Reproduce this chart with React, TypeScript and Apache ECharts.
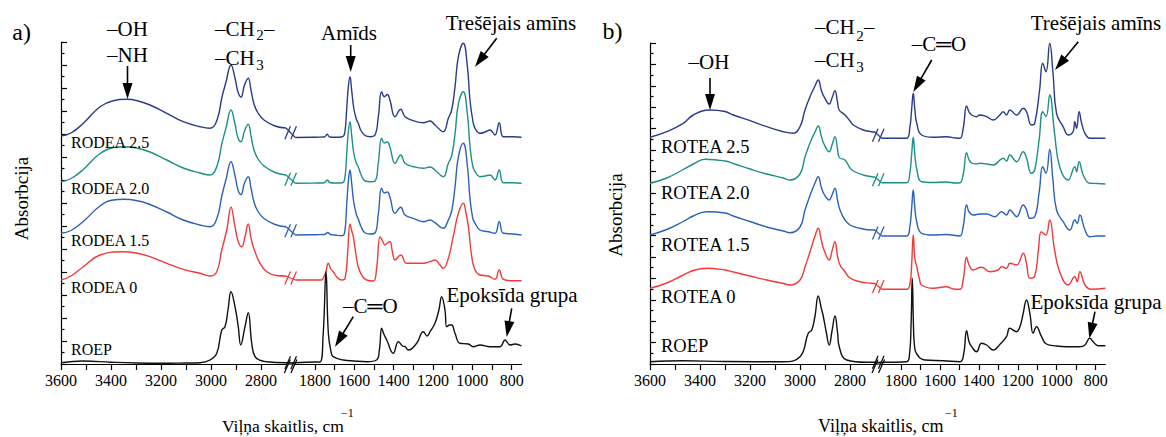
import React, { useEffect, useRef } from 'react';
import * as echarts from 'echarts';

// ---------- axis ticks / labels ----------
const leftTicks = [2800, 2900, 3000, 3100, 3200, 3300, 3400, 3500, 3600];
const leftTickLabels = [2800, 3000, 3200, 3400, 3600];
const rightTicks = [800, 900, 1000, 1100, 1200, 1300, 1400, 1500, 1600, 1700, 1800];
const rightTickLabels = [800, 1000, 1200, 1400, 1600, 1800];

// ---------- series names and colours ----------
const namesA = ['RODEA 2.5', 'RODEA 2.0', 'RODEA 1.5', 'RODEA 0', 'ROEP'];
const namesB = ['ROTEA 2.5', 'ROTEA 2.0', 'ROTEA 1.5', 'ROTEA 0', 'ROEP'];
const colors = ['#2a3b87', '#1d8f88', '#2b62b8', '#f03a3a', '#111111'];

// ---------- panel a : spectra (wavenumber, offset absorbance) ----------
const rodea25L = [[3600, 228], [3560, 231], [3511, 240.7], [3444, 257.3], [3391, 263.3], [3337, 264.7], [3290, 263], [3244, 259], [3177, 250.7], [3111, 242.3], [3044, 237.3], [3004, 235.7], [2976, 244], [2956, 267], [2940, 282], [2920, 299], [2904, 286], [2892, 272], [2880, 267], [2866, 279], [2851, 285.7], [2840, 274], [2828, 260], [2812, 251], [2788, 244], [2744, 238], [2700, 236]];
const rodea20L = [[3600, 182.3], [3560, 185.5], [3511, 194.5], [3444, 210.5], [3391, 216.5], [3350, 217.3], [3290, 215.5], [3244, 212], [3177, 204], [3111, 196], [3044, 191], [3004, 189], [2976, 198], [2956, 221], [2940, 236], [2920, 254], [2904, 240], [2892, 226], [2880, 222.3], [2866, 233], [2851, 239.7], [2840, 228], [2828, 214], [2812, 205], [2788, 198], [2744, 191.5], [2700, 189]];
const rodea15L = [[3600, 130.7], [3560, 133.5], [3511, 142.5], [3444, 158], [3391, 164], [3350, 164.7], [3290, 163], [3244, 159.5], [3177, 152], [3111, 144], [3044, 139], [3004, 137.3], [2976, 146], [2956, 169], [2940, 184.5], [2920, 202.3], [2904, 188.5], [2892, 174], [2880, 169.5], [2866, 181], [2851, 187.3], [2840, 176], [2828, 162], [2812, 152.5], [2788, 145.5], [2744, 139.5], [2700, 137.3]];
const rodea0L = [[3600, 84], [3560, 88], [3511, 97.3], [3444, 109], [3351, 112.3], [3290, 110.5], [3244, 107.3], [3177, 100.7], [3111, 94.7], [3044, 90.7], [3004, 88], [2977, 92.3], [2957, 114], [2937, 134], [2920, 156.7], [2904, 137.3], [2891, 122.3], [2877, 117.3], [2864, 127.3], [2851, 140], [2841, 127.3], [2831, 117.3], [2804, 100.7], [2777, 92.3], [2740, 88.5], [2700, 88]];
const roepAL = [[3600, 1.3], [3511, 3], [3400, 1.8], [3300, 1], [3200, 0.7], [3100, 1], [3044, 1.3], [3004, 4], [2977, 10.7], [2957, 34], [2944, 37.3], [2932, 54], [2920, 72.3], [2904, 57.3], [2891, 37.3], [2881, 19], [2864, 37.3], [2851, 51.3], [2837, 20.7], [2824, 7.3], [2800, 3.5], [2777, 2.3], [2700, 1.3]];

const rodea25R = [[1900, 226.5], [1790, 226.8], [1752, 227], [1738, 229.7], [1725, 227], [1700, 226.7], [1660, 227.3], [1648, 232], [1639, 254], [1631, 276], [1622, 287.3], [1613, 273], [1603, 256], [1590, 245], [1580, 240.7], [1565, 233], [1545, 228.5], [1520, 227.3], [1495, 229], [1478, 247], [1461, 272.3], [1447, 267.3], [1432, 269.5], [1419, 264], [1393, 247.3], [1364, 254.7], [1342, 247.3], [1300, 243.3], [1249, 241.3], [1215, 243], [1190, 239], [1148, 232.3], [1122, 245.7], [1105, 254], [1088, 277.3], [1071, 307.3], [1046, 320.7], [1025, 297.3], [1012, 264], [998, 244], [986, 235.7], [961, 230.7], [935, 232], [910, 234], [885, 229], [863, 241.3], [842, 227.3], [792, 227.3], [750, 226.7]];
const rodea20R = [[1900, 180.7], [1790, 181], [1752, 181.3], [1737, 184], [1725, 181.5], [1700, 181], [1660, 181.3], [1648, 186], [1639, 209], [1631, 231], [1622, 242.3], [1613, 228], [1603, 211], [1590, 201], [1580, 197.3], [1565, 189], [1545, 183], [1520, 182.3], [1495, 183], [1478, 201], [1461, 225.7], [1447, 221], [1432, 222], [1419, 217], [1393, 200.7], [1364, 209], [1342, 200.7], [1300, 197.3], [1249, 195.7], [1215, 197], [1190, 194], [1148, 187.3], [1122, 200.7], [1105, 208], [1088, 230], [1071, 260], [1046, 272.3], [1025, 250], [1012, 218], [998, 198], [986, 192.3], [961, 187.3], [935, 188], [910, 189], [885, 184], [863, 194], [842, 181.3], [792, 181.3], [750, 180.7]];
const rodea15R = [[1900, 129], [1790, 129.3], [1752, 129.5], [1735, 131.5], [1722, 129.5], [1700, 129], [1660, 128.3], [1648, 133], [1639, 158], [1631, 181], [1622, 194], [1613, 180], [1603, 162], [1590, 150], [1580, 145], [1565, 137], [1545, 131], [1520, 130], [1495, 131], [1478, 150], [1461, 175.7], [1447, 171], [1432, 172], [1419, 167], [1393, 150.7], [1364, 156.7], [1342, 149], [1300, 145.7], [1249, 142.3], [1215, 144], [1190, 141.3], [1148, 135.7], [1122, 144], [1105, 153], [1088, 177], [1071, 207], [1046, 220.7], [1025, 198], [1012, 166], [998, 146], [986, 140.7], [961, 134], [918, 132.3], [885, 130.7], [863, 142.3], [842, 130.7], [792, 130], [750, 129]];
const rodea0R = [[1900, 84], [1790, 84], [1766, 84], [1758, 85.7], [1745, 92], [1732, 100.7], [1720, 95], [1707, 92.3], [1690, 87.3], [1664, 84], [1647, 85.7], [1634, 110.7], [1622, 140], [1613, 133], [1605, 127.3], [1592, 110], [1580, 97.3], [1560, 88], [1537, 84], [1503, 83], [1487, 95], [1469, 127.3], [1456, 123], [1444, 119], [1432, 121], [1419, 122.3], [1406, 112], [1393, 104], [1364, 109], [1334, 100.7], [1300, 100.7], [1249, 100.7], [1215, 102.3], [1190, 104], [1164, 99], [1148, 95.7], [1122, 105.7], [1097, 127.3], [1071, 150.7], [1046, 160.7], [1032, 150.7], [1020, 137.3], [1003, 107.3], [986, 94], [961, 89], [918, 88], [885, 84.7], [863, 94], [842, 84.7], [792, 83.3], [750, 83.3]];
const roepAR = [[1900, 1.3], [1800, 2], [1775, 2], [1758, 30.7], [1744, 92.3], [1732, 30.7], [1718, 12], [1707, 7.3], [1656, 4], [1600, 3], [1537, 2.3], [1487, 4], [1472, 15], [1461, 35.7], [1450, 30], [1435, 24], [1402, 10.7], [1376, 22.3], [1355, 18], [1342, 17.3], [1325, 14], [1283, 20.7], [1249, 32.3], [1230, 28], [1215, 32.3], [1190, 40.7], [1170, 54], [1156, 67.3], [1139, 54], [1130, 37.3], [1114, 39], [1105, 39], [1088, 30.7], [1063, 20.7], [1020, 20], [995, 17.3], [961, 19], [910, 17.3], [859, 17.3], [834, 24], [808, 19], [783, 20], [750, 18]];

// ---------- panel b : spectra ----------
const rotea25L = [[3600, 226.7], [3533, 232.3], [3467, 240.7], [3427, 249], [3360, 254], [3300, 252.5], [3267, 249], [3200, 243.3], [3133, 237.3], [3067, 232.3], [3027, 230.7], [3000, 237.3], [2980, 254], [2960, 267.3], [2940, 278], [2927, 284], [2915, 274], [2904, 267.3], [2883, 260], [2872, 266], [2860, 273.3], [2850, 262], [2843, 254], [2820, 249], [2800, 243], [2787, 239], [2747, 234], [2713, 232.3], [2700, 232]];
const rotea20L = [[3600, 180.7], [3533, 186], [3467, 194.5], [3427, 200], [3380, 204.7], [3300, 203], [3267, 200.5], [3200, 195], [3133, 190], [3067, 186], [3040, 184], [3000, 190], [2980, 207], [2960, 221], [2940, 232], [2927, 238], [2915, 228], [2904, 220], [2883, 212.3], [2872, 219], [2860, 227.3], [2850, 215], [2843, 206.5], [2820, 204], [2800, 196], [2787, 193], [2747, 189], [2713, 187.3], [2700, 187]];
const rotea15L = [[3600, 129], [3533, 134.5], [3467, 142.5], [3427, 148], [3373, 152.3], [3300, 151], [3267, 148], [3200, 142.5], [3133, 137], [3067, 133], [3040, 131.3], [3000, 137], [2980, 154], [2960, 168.5], [2940, 181], [2927, 187.3], [2915, 177], [2904, 170], [2883, 164], [2872, 169], [2860, 175.7], [2850, 164], [2840, 154], [2820, 144], [2800, 139], [2760, 135.7], [2713, 134], [2700, 134]];
const rotea0L = [[3600, 75.7], [3533, 81], [3467, 89], [3420, 94], [3373, 95.7], [3300, 94], [3267, 92], [3200, 88], [3133, 84], [3067, 80.5], [3040, 79], [3000, 84], [2980, 97], [2960, 112.3], [2940, 128], [2927, 135.7], [2915, 124], [2904, 114], [2883, 104], [2872, 113], [2860, 122.3], [2850, 108], [2840, 99], [2820, 92.3], [2800, 86], [2760, 82.3], [2713, 80.7], [2700, 80.5]];
const roepBL = [[3600, 2.3], [3468, 3.3], [3300, 2.5], [3068, 2.3], [3000, 7.3], [2967, 30.7], [2953, 34], [2940, 48], [2927, 68], [2915, 56], [2908, 49], [2895, 32], [2883, 19], [2872, 33], [2860, 48], [2850, 32], [2843, 17.3], [2813, 4], [2733, 1.7], [2700, 1.7]];

const rotea25R = [[1900, 225.7], [1771, 225.7], [1754, 237.3], [1745, 255], [1737, 270.7], [1729, 255], [1719, 240.7], [1694, 229], [1634, 226.7], [1566, 227.3], [1520, 226], [1497, 225.7], [1480, 236], [1463, 258], [1450, 252], [1437, 249], [1412, 247.3], [1395, 249], [1360, 247.3], [1326, 244], [1292, 249], [1275, 252.3], [1258, 249], [1241, 254], [1206, 249], [1172, 255.7], [1155, 252.3], [1130, 239], [1113, 240.7], [1088, 274], [1072, 300.7], [1055, 292.3], [1036, 320.7], [1019, 290.7], [1001, 250.7], [967, 237.3], [941, 229], [916, 232.3], [907, 242.3], [898, 235.7], [885, 252.3], [872, 240.7], [855, 230.7], [830, 225.7], [796, 225.7], [750, 225.7]];
const rotea20R = [[1900, 181.3], [1771, 181.3], [1754, 192], [1745, 210], [1737, 226.7], [1729, 210], [1719, 195], [1694, 182.3], [1634, 181.5], [1566, 182], [1520, 181], [1497, 181.3], [1480, 190], [1463, 211.3], [1450, 204], [1437, 201], [1412, 200], [1395, 200.7], [1360, 200], [1326, 199], [1275, 205.7], [1258, 203], [1241, 209], [1206, 202.3], [1172, 212.3], [1155, 206], [1130, 190.7], [1113, 194], [1090, 225], [1072, 252.3], [1055, 247.3], [1036, 269], [1011, 230.7], [985, 197.3], [941, 184], [907, 197.3], [898, 192.3], [885, 202.3], [864, 189], [830, 180.7], [790, 180.5], [750, 180]];
const rotea15R = [[1900, 128], [1771, 128], [1754, 138], [1745, 156], [1737, 174], [1729, 157], [1719, 142], [1694, 130.7], [1634, 129], [1566, 129.5], [1520, 128.5], [1497, 128], [1480, 138], [1463, 159], [1450, 152], [1429, 149], [1395, 150], [1360, 150], [1318, 147.3], [1283, 152.3], [1258, 149], [1241, 154], [1206, 147.3], [1172, 159], [1155, 154], [1138, 145.7], [1113, 147.3], [1090, 172], [1072, 197.3], [1055, 190.7], [1036, 214.7], [1020, 185], [1001, 154], [967, 142.3], [933, 134], [907, 144], [895, 140.7], [881, 149], [855, 134], [830, 127.3], [790, 128], [750, 128]];
const rotea0R = [[1900, 74.7], [1771, 74.7], [1754, 80], [1745, 100], [1737, 129], [1729, 106], [1719, 97.3], [1705, 85], [1694, 79], [1634, 75.7], [1566, 77.3], [1530, 75], [1497, 74.7], [1480, 85], [1463, 106.7], [1450, 99], [1429, 94], [1386, 96.7], [1343, 92.3], [1301, 94], [1283, 97.3], [1258, 95.7], [1241, 100.7], [1206, 99], [1172, 110.7], [1155, 100], [1138, 85.7], [1113, 88], [1095, 112], [1079, 132.3], [1056, 129], [1036, 144], [1011, 114], [985, 92.3], [941, 79], [907, 87.3], [895, 82.3], [881, 92.3], [855, 79], [822, 74.7], [750, 75.7]];
const roepBR = [[1900, 1.7], [1771, 2.3], [1756, 10], [1748, 40], [1742, 85.7], [1736, 40], [1731, 19], [1719, 10], [1677, 4], [1583, 3.3], [1497, 2.3], [1478, 10], [1463, 33.3], [1450, 22], [1437, 17.3], [1412, 12.3], [1386, 20.7], [1360, 19], [1326, 14], [1290, 20], [1258, 27.3], [1241, 35.7], [1206, 32.3], [1189, 37.3], [1174, 49], [1155, 64], [1138, 50.7], [1121, 30.7], [1104, 37.3], [1078, 27.3], [1053, 20], [1001, 18], [950, 17.3], [882, 17.3], [855, 19], [830, 25.7], [813, 22.3], [787, 18.3], [750, 18.3]];

const SERIF = 'Liberation Serif, Times New Roman, serif';

const panels = [
  { names: namesA, left: [rodea25L, rodea20L, rodea15L, rodea0L, roepAL], right: [rodea25R, rodea20R, rodea15R, rodea0R, roepAR], g: 0 },
  { names: namesB, left: [rotea25L, rotea20L, rotea15L, rotea0L, roepBL], right: [rotea25R, rotea20R, rotea15R, rotea0R, roepBR], g: 2 },
];

function xAxisDef(gridIndex: number, isLeft: boolean) {
  return {
    type: 'value',
    gridIndex,
    inverse: true,
    min: isLeft ? 2700 : 750,
    max: isLeft ? 3600 : 1900,
    axisLine: { show: true, onZero: false, lineStyle: { color: '#000', width: 1.2 } },
    axisTick: { show: true, customValues: isLeft ? leftTicks : rightTicks, length: 6, lineStyle: { color: '#000', width: 1.2 } },
    axisLabel: {
      show: true,
      customValues: isLeft ? leftTickLabels : rightTickLabels,
      formatter: (v: number) => String(Math.round(v)),
      margin: 8, fontSize: 16, fontFamily: SERIF, color: '#000',
    },
    splitLine: { show: false },
  };
}

function yAxisDef(gridIndex: number, visible: boolean, max: number, interval: number) {
  return {
    type: 'value',
    gridIndex,
    min: 0,
    max,
    interval,
    show: visible,
    axisLine: { show: true, onZero: false, lineStyle: { color: '#000', width: 1.2 } },
    axisTick: { show: true, inside: true, length: 6, lineStyle: { color: '#000', width: 1.2 } },
    minorTick: { show: true, splitNumber: 2, length: 3.5, lineStyle: { color: '#000', width: 1.2 } },
    axisLabel: { show: false },
    splitLine: { show: false },
    minorSplitLine: { show: false },
  };
}

function buildOption() {
  const series: any[] = [];
  panels.forEach((p) => {
    p.left.forEach((d, k) => {
      [d, p.right[k]].forEach((data, side) => {
        series.push({
          type: 'line',
          name: p.names[k],
          xAxisIndex: p.g + side,
          yAxisIndex: p.g + side,
          data,
          smooth: 0.45,
          symbol: 'none',
          showSymbol: false,
          silent: true,
          lineStyle: { color: colors[k], width: 1.4 },
          z: 3,
        });
      });
    });
  });
  return {
    animation: false,
    backgroundColor: '#ffffff',
    textStyle: { fontFamily: SERIF },
    grid: [
      { left: 61, top: 42, width: 225, height: 322 },
      { left: 295.3, top: 42, width: 226.2, height: 322 },
      { left: 650, top: 43, width: 225, height: 321 },
      { left: 881.5, top: 43, width: 223.9, height: 321 },
    ],
    xAxis: [xAxisDef(0, true), xAxisDef(1, false), xAxisDef(2, true), xAxisDef(3, false)],
    yAxis: [yAxisDef(0, true, 322, 23), yAxisDef(1, false, 322, 23), yAxisDef(2, true, 321, 21.4), yAxisDef(3, false, 321, 21.4)],
    series,
  };
}

function seg(x1: number, y1: number, x2: number, y2: number, color: string, w: number) {
  return { type: 'line', silent: true, z: 10, shape: { x1, y1, x2, y2 }, style: { stroke: color, lineWidth: w } };
}

function txt(x: number, y: number, text: string, size: number, align = 'center', rotation = 0) {
  return {
    type: 'text', x, y, rotation, silent: true, z: 10,
    style: { text, fontSize: size, fontFamily: SERIF, fill: '#000', align, verticalAlign: 'middle' },
  };
}

function arrow(x1: number, y1: number, x2: number, y2: number) {
  const dx = x2 - x1, dy = y2 - y1;
  const len = Math.hypot(dx, dy);
  const ux = dx / len, uy = dy / len;
  const hl = 16, hw = 5;
  const bx = x2 - ux * hl, by = y2 - uy * hl;
  return [
    seg(x1, y1, bx + ux * 2, by + uy * 2, '#000', 1.6),
    { type: 'polygon', silent: true, z: 10, shape: { points: [[x2, y2], [bx - uy * hw, by + ux * hw], [bx + uy * hw, by - ux * hw]] }, style: { fill: '#000' } },
  ];
}

function buildGraphics(chart: any) {
  const g: any[] = [];
  panels.forEach((p) => {
    const a = chart.convertToPixel({ xAxisIndex: p.g, yAxisIndex: p.g }, [2700, 0]);
    const b = chart.convertToPixel({ xAxisIndex: p.g + 1, yAxisIndex: p.g + 1 }, [1900, 0]);
    g.push(seg(a[0], a[1], b[0], b[1], '#000', 1.2));
    const mx = (a[0] + b[0]) / 2;
    [-3.3, 3.3].forEach((o) => g.push(seg(mx + o - 3, a[1] + 9, mx + o + 3, a[1] - 4.5, '#000', 1.2)));
    p.left.forEach((d, k) => {
      const L = chart.convertToPixel({ xAxisIndex: p.g, yAxisIndex: p.g }, d[d.length - 1]);
      const R = chart.convertToPixel({ xAxisIndex: p.g + 1, yAxisIndex: p.g + 1 }, p.right[k][0]);
      g.push(seg(L[0], L[1], R[0], R[1], colors[k], 1.3));
      const cx = (L[0] + R[0]) / 2, cy = (L[1] + R[1]) / 2;
      [-3, 3].forEach((o) => g.push(seg(cx + o - 2.8, cy + 6.5, cx + o + 2.8, cy - 6.5, colors[k], 1.3)));
    });
  });

  g.push(txt(21.7, 32, 'a)', 24));
  g.push(txt(612.5, 31, 'b)', 24));
  const labA = [142.6, 188.5, 240.8, 287.5, 349.2];
  namesA.forEach((n, i) => g.push(txt(71, labA[i], n, 16, 'left')));
  const labB = [146.7, 193, 245, 296.7, 346.3];
  namesB.forEach((n, i) => g.push(txt(661, labB[i], n, 18.5, 'left')));

  // panel a annotations
  g.push(txt(127.5, 28.5, '–OH', 21));
  g.push(txt(127.5, 55, '–NH', 21));
  g.push(...arrow(127.5, 66, 127.5, 99));
  g.push(txt(215, 28.5, '–CH', 21, 'left'));
  g.push(txt(260, 34.5, '2', 15));
  g.push(txt(264, 28.5, '–', 21, 'left'));
  g.push(txt(215, 58.3, '–CH', 21, 'left'));
  g.push(txt(260, 65, '3', 15));
  g.push(txt(349, 32.5, 'Amīds', 21));
  g.push(...arrow(350.7, 45, 350.7, 72));
  g.push(txt(511, 23, 'Trešējais amīns', 21));
  g.push(...arrow(496.7, 38.3, 475, 66.7));
  g.push(txt(343, 306, '–C═O', 21, 'left'));
  g.push(...arrow(353.3, 316.7, 335, 346.7));
  g.push(txt(512, 295, 'Epoksīda grupa', 21));
  g.push(...arrow(511.7, 308.3, 506.7, 337));

  // panel b annotations
  g.push(txt(709, 61.7, '–OH', 21));
  g.push(...arrow(710, 78, 710, 110));
  g.push(txt(815, 26.7, '–CH', 21, 'left'));
  g.push(txt(860, 35.5, '2', 15));
  g.push(txt(864, 26.7, '–', 21, 'left'));
  g.push(txt(815, 60, '–CH', 21, 'left'));
  g.push(txt(860, 66.7, '3', 15));
  g.push(txt(911.7, 44, '–C═O', 21, 'left'));
  g.push(...arrow(931.7, 60, 913.3, 92));
  g.push(txt(1096, 23, 'Trešējais amīns', 21));
  g.push(...arrow(1078.3, 41.7, 1055, 70));
  g.push(txt(1096, 302, 'Epoksīda grupa', 21));
  g.push(...arrow(1095, 311.7, 1089.3, 338.5));

  // axis titles
  g.push(txt(21, 198.5, 'Absorbcija', 19, 'center', Math.PI / 2));
  g.push(txt(615, 215, 'Absorbcija', 19, 'center', Math.PI / 2));
  g.push(txt(222, 426, 'Viļņa skaitlis, cm', 17.5, 'left'));
  g.push(txt(341, 413, '−1', 12, 'left'));
  g.push(txt(818, 426, 'Viļņa skaitlis, cm', 18, 'left'));
  g.push(txt(945, 413, '−1', 12, 'left'));
  return g;
}

export default function App() {
  const ref = useRef<HTMLDivElement>(null);
  useEffect(() => {
    const chart = echarts.init(ref.current as HTMLDivElement, null, { renderer: 'svg' });
    chart.setOption(buildOption() as any);
    chart.setOption({ graphic: { elements: buildGraphics(chart) } } as any);
    return () => chart.dispose();
  }, []);
  return <div ref={ref} style={{ position: 'absolute', left: 0, top: 0, width: 1166, height: 437, background: '#fff' }} />;
}
